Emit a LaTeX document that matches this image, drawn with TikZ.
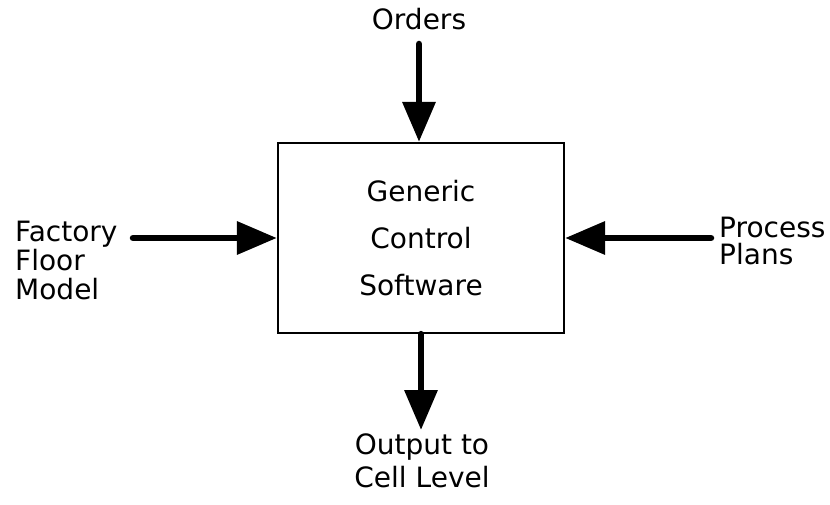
\documentclass[tikz,border=0pt]{standalone}
\usepackage{fontspec}
\setmainfont{DejaVu Sans}
\usetikzlibrary{arrows.meta}
\begin{document}
\begin{tikzpicture}[x=1pt,y=-1pt,
  lbl/.style={inner sep=0pt, font=\fontsize{28}{29}\selectfont},
  flow/.style={line width=6.5pt, line cap=round,
    -{Triangle[length=40pt,width=32pt]}},
  mainbox/.style={draw, line width=2.2pt, minimum width=286pt, minimum height=190pt,
    inner sep=0pt, align=center, font=\fontsize{28}{47}\selectfont}]
\useasboundingbox (0,0) rectangle (830,505);
% central block
\node[mainbox] (gcs) at (421,238) {Generic\\Control\\Software};
% inputs and output labels
\node[lbl, anchor=base] (orders) at (419,30) {Orders};
\node[lbl, anchor=west, align=left] (ffm) at (15,260.5) {Factory\\Floor\\Model};
\node[lbl, anchor=west, align=left, font=\fontsize{28}{27}\selectfont] (pp) at (719,241) {Process\\Plans};
\node[lbl, anchor=north, align=center, font=\fontsize{28}{33}\selectfont] (out) at (422,434) {Output to\\Cell Level};
% shaft ends
\coordinate (topstart) at (419,44);
\coordinate (leftstart) at (133,238);
\coordinate (rightstart) at (711,238);
\coordinate (botend) at (421,430);
% arrows
\draw[flow] (topstart) -- (gcs.north -| topstart);
\draw[flow] (leftstart) -- (gcs.west);
\draw[flow] (rightstart) -- (gcs.east);
\draw[flow] (gcs.south) -- (botend);
\end{tikzpicture}
\end{document}
